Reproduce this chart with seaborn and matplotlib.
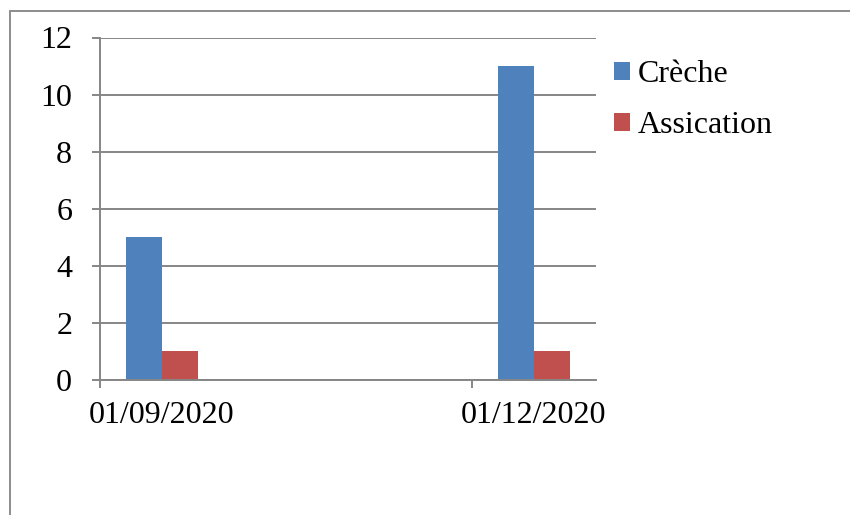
import matplotlib
matplotlib.use("Agg")
import matplotlib.pyplot as plt
from matplotlib.lines import Line2D
from matplotlib.patches import Patch
import pandas as pd
import seaborn as sns

# Data
dates = ["01/09/2020", "01/12/2020"]
creche = [5, 11]
assication = [1, 1]
series_names = ["Crèche", "Assication"]
colors = ["#4F81BD", "#C0504D"]
y_ticks = [0, 2, 4, 6, 8, 10, 12]

sns.set_style("white")
plt.rcParams["font.family"] = ["Liberation Serif", "DejaVu Serif"]
plt.rcParams["text.color"] = "black"

# Monthly slots spanning the whole date range (date axis, one slot per month)
parsed = pd.to_datetime(dates, format="%d/%m/%Y")
months = pd.date_range(parsed.min(), parsed.max(), freq="MS")
order = [m.strftime("%d/%m/%Y") for m in months]

df = pd.DataFrame({
    "date": dates * 2,
    "value": creche + assication,
    "series": [series_names[0]] * len(dates) + [series_names[1]] * len(dates),
})

fig = plt.figure(figsize=(8.5, 5.15), dpi=100)
ax = fig.add_axes([100 / 850, 135 / 515, 496 / 850, (380 - 37.5) / 515])

palette = dict(zip(series_names, colors))
sns.barplot(data=df, x="date", y="value", hue="series", order=order,
            hue_order=series_names, palette=palette, width=0.573,
            errorbar=None, linewidth=0, saturation=1, legend=False, ax=ax)

grid_color = "#868686"
ax.set_xlim(-0.5, len(order) - 0.5)
ax.set_ylim(0, 12)
ax.set_yticks(y_ticks)
ax.yaxis.grid(True, color=grid_color, linewidth=1.4)
ax.set_axisbelow(True)

# Date labels on their month slots; tick marks on quarter boundaries
pos = [order.index(d) for d in dates]
ax.set_xticks(pos, labels=dates)
ax.set_xticks([p - 0.5 for p in pos], minor=True)
ax.tick_params(axis="x", which="major", length=0, pad=15, labelsize=23,
               bottom=True, labelcolor="black")
ax.tick_params(axis="x", which="minor", length=6, width=1.4,
               color=grid_color, direction="out", bottom=True)
ax.tick_params(axis="y", length=6, width=1.4, color=grid_color,
               direction="out", pad=14, labelsize=23, left=True,
               labelcolor="black")
ax.set_xlabel("")
ax.set_ylabel("")

for side in ["top", "right"]:
    ax.spines[side].set_visible(False)
for side in ["left", "bottom"]:
    ax.spines[side].set_color(grid_color)
    ax.spines[side].set_linewidth(1.4)

handles = [Patch(facecolor=c, edgecolor="none") for c in colors]
fig.legend(handles, series_names, loc="upper left",
           bbox_to_anchor=(614 / 850, 1 - 60 / 515), frameon=False,
           fontsize=23, handlelength=0.5, handleheight=0.5,
           handletextpad=0.25, labelspacing=0.7, borderpad=0,
           borderaxespad=0, labelcolor="black")

# Chart area border
border = "#8C8C8C"
fig.add_artist(Line2D([10 / 850, 10 / 850], [0, 1 - 11 / 515],
                      color=border, linewidth=1.4))
fig.add_artist(Line2D([10 / 850, 1], [1 - 11 / 515, 1 - 11 / 515],
                      color=border, linewidth=1.4))

fig.savefig("out.png", dpi=100)
